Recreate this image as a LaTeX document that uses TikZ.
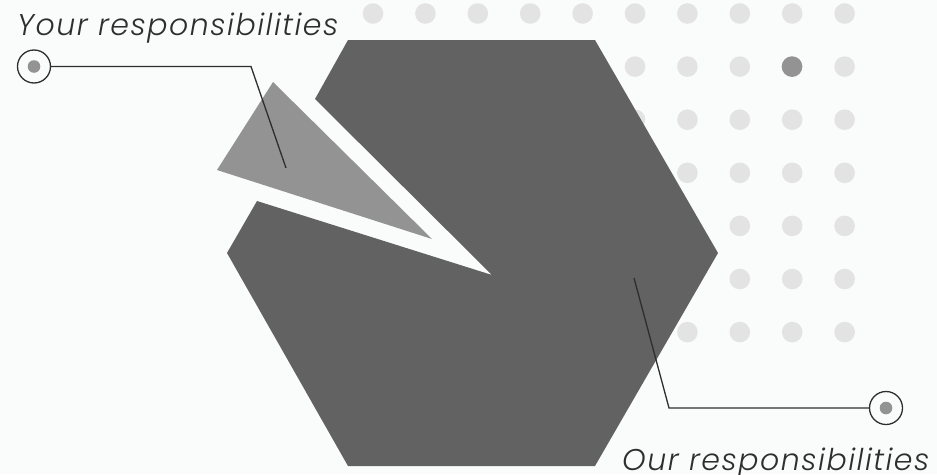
\documentclass[tikz,border=0pt]{standalone}
\usepackage{fontspec}
\newfontfamily\lblfont[ItalicFont=Poppins Light Italic,LetterSpace=5]{Poppins Light}
\definecolor{bgc}{HTML}{FAFBFB}
\definecolor{hexc}{HTML}{626262}
\definecolor{tri}{HTML}{939393}
\definecolor{dotc}{HTML}{E3E3E3}
\definecolor{linec}{HTML}{2E2E2E}
\begin{document}
\begin{tikzpicture}[x=1pt,y=-1pt,
  dot/.style={circle,fill=dotc,inner sep=0pt,minimum size=20.6pt},
  hidot/.style={circle,fill=tri,inner sep=0pt,minimum size=20.6pt},
  marker/.style={circle,draw=linec,line width=1.3pt,fill=bgc,inner sep=0pt,minimum size=33pt,
     path picture={\fill[tri] (path picture bounding box.center) circle (6.3pt);}},
  leader/.style={draw=linec,line width=1.3pt},
  lbl/.style={font=\lblfont\itshape\fontsize{30}{34}\selectfont,text=linec,inner sep=0pt}]
\fill[bgc] (0,0) rectangle (937,474);
\useasboundingbox (0,0) rectangle (937,474);
% dot grid
\foreach \i in {0,...,9} \node[dot] (d1\i) at ({373+52.4*\i},13.5) {};
\foreach \r in {1,...,6}
  \foreach \i in {4,...,9}
    \node[dot] (d\r\i) at ({373+52.4*\i},{13.5+53.1*\r}) {};
\node[hidot] (dhi) at (792,66.6) {};
% hexagon with wedge cut
\fill[hexc] (348,40) -- (595,40) -- (718,253) -- (595,466) -- (348,466) -- (227,253)
  -- (257,201) -- (492,275) -- (315,99) -- cycle;
% light triangle
\fill[tri] (217,170) -- (273,82) -- (432,239) -- cycle;
% callouts
\node[marker] (m1) at (34,66.5) {};
\coordinate (b1) at (251,66.5);
\coordinate (e1) at (286,168);
\draw[leader] (m1.east) -- (b1) -- (e1);
\node[marker] (m2) at (886,408) {};
\coordinate (b2) at (669,408);
\coordinate (e2) at (634,278);
\draw[leader] (m2.west) -- (b2) -- (e2);
% labels
\node[lbl,anchor=base west] (t1) at (17,35) {Your responsibilities};
\node[lbl,anchor=base west] (t2) at (622,470) {Our responsibilities};
\end{tikzpicture}
\end{document}
